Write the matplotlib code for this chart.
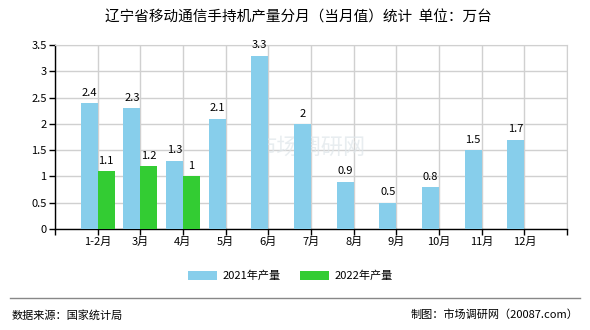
import matplotlib.pyplot as plt
import numpy as np

plt.rcParams['font.family'] = ['Noto Sans CJK SC', 'DejaVu Sans']

months = ['1-2月', '3月', '4月', '5月', '6月', '7月', '8月', '9月', '10月', '11月', '12月']
output_2021 = [2.4, 2.3, 1.3, 2.1, 3.3, 2, 0.9, 0.5, 0.8, 1.5, 1.7]
output_2022 = [1.1, 1.2, 1]
yticks = [0, 0.5, 1, 1.5, 2, 2.5, 3, 3.5]

fig = plt.figure(figsize=(5.9, 3.3), dpi=100)
ax = fig.add_axes([55 / 590, 1 - 229 / 330, 512 / 590, 184 / 330])

w = 0.4
x = np.arange(1, len(months) + 1)
x22 = x[:len(output_2022)]
b1 = ax.bar(x - w / 2, output_2021, w, color='#87CEEB', label='2021年产量', zorder=3)
b2 = ax.bar(x22 + w / 2, output_2022, w, color='#33CC33', label='2022年产量', zorder=3)

for xi, v in zip(x - w / 2, output_2021):
    ax.text(xi, v + 0.1, f'{v:g}', ha='center', va='bottom', fontsize=8, zorder=4)
for xi, v in zip(x22 + w / 2, output_2022):
    ax.text(xi, v + 0.1, f'{v:g}', ha='center', va='bottom', fontsize=8, zorder=4)

ax.set_xlim(0, 12)
ax.set_ylim(0, 3.5)
ax.set_xticks(np.arange(0, 13))
ax.set_xticklabels([''] + months + [''])
ax.set_yticks(yticks)
ax.set_yticklabels([f'{t:g}' for t in yticks])
ax.tick_params(labelsize=8, length=4, width=1, pad=2)
ax.grid(True, color='#d0d0d0', linewidth=1, zorder=0)
ax.spines['top'].set_color('#d0d0d0')
ax.spines['right'].set_color('#d0d0d0')
ax.spines['left'].set_linewidth(1)
ax.spines['bottom'].set_linewidth(1)

# 水印
ax.text(6, 1.55, '市场调研网', ha='center', va='center', fontsize=16,
        color='#dfe6ea', alpha=0.7, zorder=2)

fig.text(0.505, 1 - 18 / 330, '辽宁省移动通信手持机产量分月（当月值）统计  单位：万台',
         ha='center', va='center', fontsize=10.5)

fig.legend(handles=[b1, b2], loc='center', bbox_to_anchor=(0.492, 1 - 276 / 330),
           ncol=2, frameon=False, fontsize=8, handlelength=2.6, handleheight=0.9,
           columnspacing=1.8, handletextpad=0.5)

fig.add_artist(plt.Line2D([10 / 590, 580 / 590], [1 - 298 / 330] * 2,
                          color='#888888', linewidth=1))
fig.text(12 / 590, 1 - 315 / 330, '数据来源：国家统计局', ha='left', va='center', fontsize=8)
fig.text(578 / 590, 1 - 315 / 330, '制图：市场调研网（20087.com）', ha='right', va='center',
         fontsize=8)

fig.savefig('out.png', dpi=100)
